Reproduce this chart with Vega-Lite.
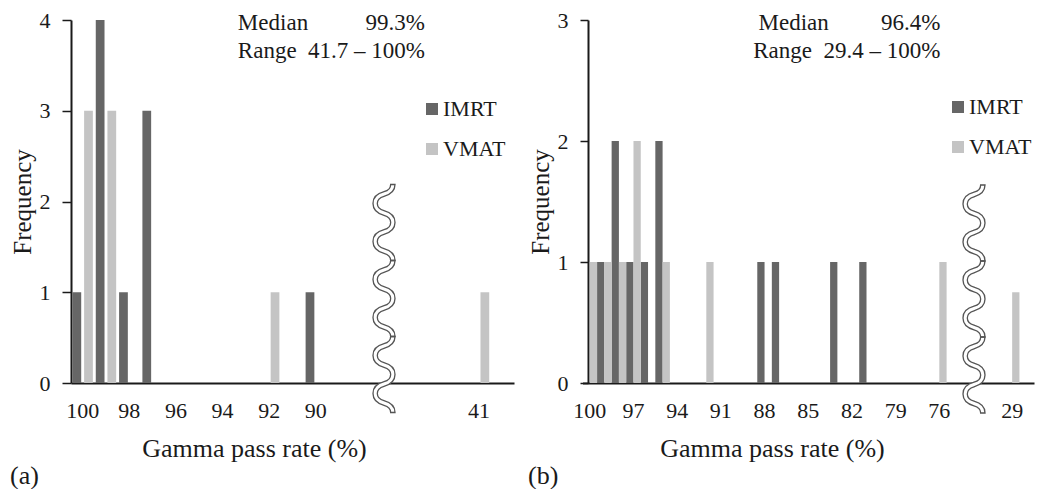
{
  "$schema": "https://vega.github.io/schema/vega-lite/v6.json",
  "padding": {"left": 10, "top": 9, "right": 0, "bottom": 0},
  "config": {
    "font": "Liberation Serif",
    "view": {"stroke": null},
    "axis": {"labelFont": "Liberation Serif", "titleFont": "Liberation Serif", "labelColor": "#1a1a1a", "titleColor": "#1a1a1a", "domainColor": "#1a1a1a", "tickColor": "#1a1a1a", "grid": false, "titleFontWeight": "normal", "domainWidth": 2},
    "legend": {"orient": "none", "legendX": 350, "legendY": 78, "title": null, "symbolType": "square", "symbolSize": 144, "symbolStrokeWidth": 0, "labelFontSize": 22, "labelFont": "Liberation Serif", "labelColor": "#1a1a1a", "rowPadding": 18, "labelOffset": 0},
    "text": {"font": "Liberation Serif", "fontSize": 23, "color": "#1a1a1a"}
  },
  "datasets": {
    "a": [
      {"rate": "100", "type": "IMRT", "freq": 1},
      {"rate": "99", "type": "IMRT", "freq": 4},
      {"rate": "98", "type": "IMRT", "freq": 1},
      {"rate": "97", "type": "IMRT", "freq": 3},
      {"rate": "90", "type": "IMRT", "freq": 1},
      {"rate": "100", "type": "VMAT", "freq": 3},
      {"rate": "99", "type": "VMAT", "freq": 3},
      {"rate": "92", "type": "VMAT", "freq": 1},
      {"rate": "41", "type": "VMAT", "freq": 1}
    ],
    "b": [
      {"rate": "99", "type": "IMRT", "freq": 1},
      {"rate": "98", "type": "IMRT", "freq": 2},
      {"rate": "97", "type": "IMRT", "freq": 1},
      {"rate": "96", "type": "IMRT", "freq": 1},
      {"rate": "95", "type": "IMRT", "freq": 2},
      {"rate": "88", "type": "IMRT", "freq": 1},
      {"rate": "87", "type": "IMRT", "freq": 1},
      {"rate": "83", "type": "IMRT", "freq": 1},
      {"rate": "81", "type": "IMRT", "freq": 1},
      {"rate": "100", "type": "VMAT", "freq": 1},
      {"rate": "99", "type": "VMAT", "freq": 1},
      {"rate": "98", "type": "VMAT", "freq": 1},
      {"rate": "97", "type": "VMAT", "freq": 2},
      {"rate": "95", "type": "VMAT", "freq": 1},
      {"rate": "92", "type": "VMAT", "freq": 1},
      {"rate": "76", "type": "VMAT", "freq": 1},
      {"rate": "29", "type": "VMAT", "freq": 0.75}
    ]
  },
  "spacing": 14,
  "resolve": {"scale": {"color": "independent", "x": "independent", "y": "independent", "xOffset": "independent"}, "legend": {"color": "independent"}},
  "hconcat": [
    {
      "width": 443,
      "height": 363,
      "title": {"text": "(a)", "orient": "bottom", "anchor": "start", "frame": "bounds", "fontSize": 26, "fontWeight": "normal", "font": "Liberation Serif", "color": "#1a1a1a", "offset": 2},
      "layer": [
        {
          "data": {"name": "a"},
          "mark": {"type": "bar"},
          "encoding": {
            "x": {"field": "rate", "type": "ordinal", "sort": null,
              "scale": {"domain": ["100","99","98","97","96","95","94","93","92","91","90","·1","·2","·3","·4","·5","·6","41","·7"], "paddingInner": 0, "paddingOuter": 0},
              "axis": {"title": "Gamma pass rate (%)", "titleFontSize": 26, "titlePadding": 14, "titleX": 183, "labelAngle": 0, "labelFontSize": 22, "labelPadding": 17, "ticks": false, "tickSize": 0, "labelOverlap": false,
                "labelExpr": "indexof(['100','98','96','94','92','90','41'], datum.value) >= 0 ? datum.value : ''"}},
            "xOffset": {"field": "type", "scale": {"domain": ["IMRT", "VMAT"], "paddingInner": 0.25, "paddingOuter": 0.125}},
            "y": {"field": "freq", "type": "quantitative", "scale": {"domain": [0, 4]},
              "axis": {"title": "Frequency", "titleFontSize": 25, "titlePadding": 4, "values": [0, 1, 2, 3, 4], "format": "d", "tickSize": 9, "tickWidth": 1.5, "labelFontSize": 22, "labelPadding": 12}},
            "color": {"field": "type", "type": "nominal", "scale": {"domain": ["IMRT", "VMAT"], "range": ["#666666", "#c4c4c4"]}}
          }
        },
        {
          "data": {"values": [{"note": "Median"}]},
          "mark": {"type": "text", "align": "left", "baseline": "alphabetic", "dx": -8},
          "encoding": {"x": {"datum": "93"}, "y": {"datum": 3.89}, "text": {"field": "note"}}
        },
        {
          "data": {"values": [{"note": "99.3%"}]},
          "mark": {"type": "text", "align": "right", "baseline": "alphabetic", "dx": -54},
          "encoding": {"x": {"datum": "41"}, "y": {"datum": 3.89}, "text": {"field": "note"}}
        },
        {
          "data": {"values": [{"note": "Range\u00a0 41.7 – 100%"}]},
          "mark": {"type": "text", "align": "right", "baseline": "alphabetic", "dx": -54},
          "encoding": {"x": {"datum": "41"}, "y": {"datum": 3.58}, "text": {"field": "note"}}
        },
        {
          "data": {"values": [{"note": "〰〰〰"}]},
          "mark": {"type": "text", "angle": 90, "align": "center", "baseline": "middle", "font": "Noto Sans CJK JP", "fontSize": 76, "fill": "white", "stroke": "#555555", "strokeWidth": 1.3, "dy": 8},
          "encoding": {"x": {"datum": "·3"}, "y": {"datum": 0.93}, "text": {"field": "note"}}
        }
      ]
    },
    {
      "width": 446,
      "height": 363,
      "title": {"text": "(b)", "orient": "bottom", "anchor": "start", "frame": "bounds", "fontSize": 26, "fontWeight": "normal", "font": "Liberation Serif", "color": "#1a1a1a", "offset": 2},
      "layer": [
        {
          "data": {"name": "b"},
          "mark": {"type": "bar"},
          "encoding": {
            "x": {"field": "rate", "type": "ordinal", "sort": null,
              "scale": {"domain": ["100","99","98","97","96","95","94","93","92","91","90","89","88","87","86","85","84","83","82","81","80","79","78","77","76","·1","·2","·3","·4","29","·5"], "paddingInner": 0, "paddingOuter": 0, "range": [-5.5, 446]},
              "axis": {"title": "Gamma pass rate (%)", "titleFontSize": 26, "titlePadding": 14, "titleX": 184, "labelAngle": 0, "labelFontSize": 22, "labelPadding": 17, "ticks": false, "tickSize": 0, "labelOverlap": false,
                "labelExpr": "indexof(['100','97','94','91','88','85','82','79','76','29'], datum.value) >= 0 ? datum.value : ''"}},
            "xOffset": {"field": "type", "scale": {"domain": ["IMRT", "VMAT"], "paddingInner": 0, "paddingOuter": 0}},
            "y": {"field": "freq", "type": "quantitative", "scale": {"domain": [0, 3]},
              "axis": {"title": "Frequency", "titleFontSize": 25, "titlePadding": 4, "values": [0, 1, 2, 3], "format": "d", "tickSize": 8, "tickWidth": 1.5, "labelFontSize": 22, "labelPadding": 12}},
            "color": {"field": "type", "type": "nominal", "scale": {"domain": ["IMRT", "VMAT"], "range": ["#666666", "#c4c4c4"]}, "legend": {"legendX": 359, "legendY": 76}}
          }
        },
        {
          "data": {"values": [{"note": "Median"}]},
          "mark": {"type": "text", "align": "left", "baseline": "alphabetic", "dx": -6},
          "encoding": {"x": {"datum": "88"}, "y": {"datum": 2.917}, "text": {"field": "note"}}
        },
        {
          "data": {"values": [{"note": "96.4%"}]},
          "mark": {"type": "text", "align": "right", "baseline": "alphabetic", "dx": 1},
          "encoding": {"x": {"datum": "76"}, "y": {"datum": 2.917}, "text": {"field": "note"}}
        },
        {
          "data": {"values": [{"note": "Range\u00a0 29.4 – 100%"}]},
          "mark": {"type": "text", "align": "right", "baseline": "alphabetic", "dx": 1},
          "encoding": {"x": {"datum": "76"}, "y": {"datum": 2.686}, "text": {"field": "note"}}
        },
        {
          "data": {"values": [{"note": "〰〰〰"}]},
          "mark": {"type": "text", "angle": 90, "align": "center", "baseline": "middle", "font": "Noto Sans CJK JP", "fontSize": 76, "fill": "white", "stroke": "#555555", "strokeWidth": 1.3, "dy": 0},
          "encoding": {"x": {"datum": "·2"}, "y": {"datum": 0.694}, "text": {"field": "note"}}
        }
      ]
    }
  ]
}
